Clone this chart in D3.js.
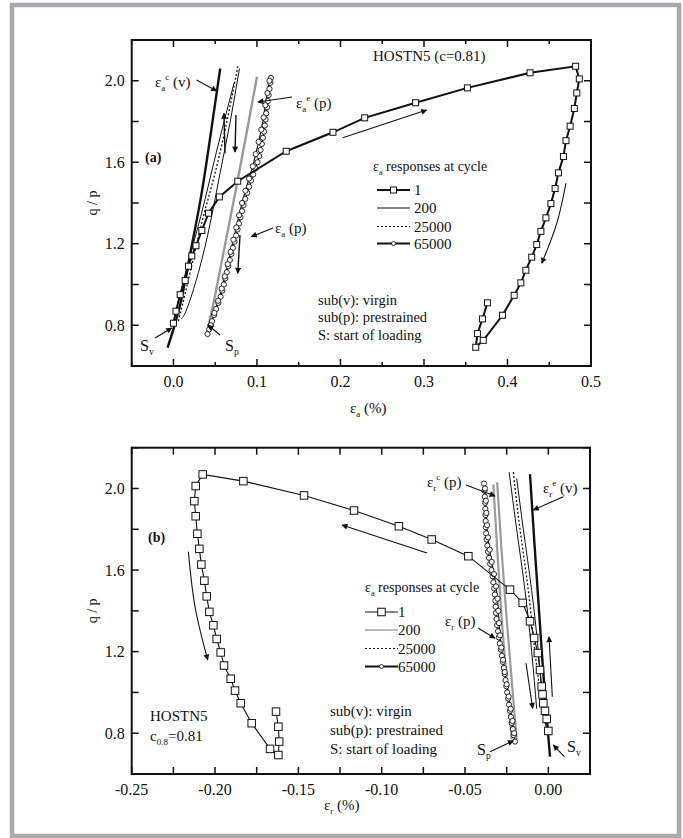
<!DOCTYPE html>
<html>
<head>
<meta charset="utf-8">
<script src="https://d3js.org/d3.v7.min.js"></script>
<style>
  body { margin: 0; background: #fff; }
  svg text { font-family: "Liberation Serif", "Times New Roman", "DejaVu Serif", serif; fill: #111; }
</style>
</head>
<body>
<svg id="fig" width="683" height="838" font-family="Liberation Serif, Times New Roman, serif"></svg>
<script>
// ---------- data: panel (a), axial strain eps_a (%) vs q/p ----------
const aCycle1X = [0.000,0.003,0.008,0.014,0.018,0.022,0.027,0.034,0.042,0.055,0.077,0.135,0.191,0.229,0.290,0.352,0.427,0.4816,0.486,0.483,0.480,0.475,0.470,0.467,0.461,0.457,0.452,0.446,0.440,0.435,0.429,0.422,0.416,0.408,0.394,0.371,0.362,0.364,0.370,0.376];
const aCycle1Y = [0.81,0.869,0.95,1.02,1.09,1.14,1.19,1.265,1.35,1.43,1.507,1.654,1.747,1.818,1.892,1.965,2.039,2.071,2.009,1.94,1.864,1.777,1.706,1.628,1.548,1.471,1.397,1.327,1.261,1.196,1.134,1.07,1.008,0.947,0.849,0.726,0.692,0.759,0.831,0.91];
// virgin envelope (thick)
const aVirginX = [-0.007,0.008,0.020,0.033,0.045,0.056];
const aVirginY = [0.69,0.90,1.15,1.43,1.75,2.06];
// cycle 200, loading and unloading
const a200UpX = [0.000,0.012,0.0327,0.052,0.0727];
const a200UpY = [0.81,1.02,1.335,1.66,1.99];
const a200DownX = [0.079,0.068,0.056,0.044,0.030,0.016,0.009];
const a200DownY = [2.06,1.80,1.55,1.30,1.06,0.88,0.83];
// cycle 25000
const a25kX = [0.006,0.020,0.035,0.050,0.065,0.077];
const a25kY = [0.82,1.06,1.32,1.55,1.82,2.07];
// prestrained elastic (grey)
const aPreEX = [0.040,0.050,0.062,0.074,0.087,0.100];
const aPreEY = [0.76,0.95,1.20,1.45,1.73,2.02];
// cycle 65000 (prestrained), loading then unloading
const a65kX = [0.0408,0.0428,0.0446,0.0462,0.0486,0.0512,0.0538,0.0565,0.0585,0.0603,0.0621,0.0639,0.0657,0.0675,0.0694,0.0712,0.0731,0.0750,0.0767,0.0785,0.0803,0.0822,0.0840,0.0860,0.0883,0.0906,0.0929,0.0955,0.0982,0.1007,0.1027,0.1043,0.1058,0.1072,0.1085,0.1094,0.1103,0.1111,0.1121,0.1130,0.1140,0.1150,0.1160,0.1167,
  0.1150,0.1125,0.1100,0.1080,0.1052,0.1020,0.0985,0.0950,0.0905,0.0862,0.0822,0.0786,0.0752,0.0718,0.0684,0.0650,0.0614,0.0577,0.0535,0.0490,0.0445];
const a65kY = [0.757,0.78,0.80,0.82,0.85,0.88,0.91,0.94,0.97,1.00,1.03,1.06,1.09,1.12,1.15,1.18,1.21,1.24,1.27,1.30,1.33,1.36,1.39,1.42,1.45,1.48,1.51,1.54,1.57,1.60,1.63,1.66,1.69,1.72,1.75,1.78,1.81,1.84,1.87,1.90,1.93,1.96,1.99,2.014,
  2.00,1.94,1.88,1.82,1.76,1.70,1.64,1.58,1.52,1.46,1.40,1.34,1.28,1.22,1.16,1.10,1.04,0.98,0.92,0.86,0.80];

// ---------- data: panel (b), radial strain eps_r (%) vs q/p ----------
const bCycle1X = [0.000,-0.001,-0.002,-0.003,-0.0035,-0.004,-0.005,-0.0063,-0.0085,-0.011,-0.0154,-0.023,-0.048,-0.070,-0.0897,-0.1166,-0.1466,-0.183,-0.2074,-0.2116,-0.2124,-0.2116,-0.2106,-0.2094,-0.2082,-0.2064,-0.205,-0.2034,-0.201,-0.199,-0.1966,-0.1946,-0.1906,-0.188,-0.1846,-0.178,-0.167,-0.162,-0.1615,-0.162,-0.1634];
const bCycle1Y = [0.811,0.870,0.91,0.947,0.99,1.029,1.11,1.193,1.267,1.349,1.439,1.504,1.668,1.75,1.815,1.892,1.966,2.036,2.069,2.012,1.938,1.864,1.778,1.704,1.627,1.548,1.471,1.395,1.329,1.262,1.196,1.132,1.067,1.009,0.947,0.849,0.723,0.693,0.759,0.832,0.906];
const bVirginX = [-0.011,-0.0085,-0.006,-0.0035,-0.001,0.001];
const bVirginY = [2.07,1.75,1.45,1.15,0.88,0.685];
const b200UpX = [-0.001,-0.003,-0.006,-0.010,-0.015,-0.019];
const b200UpY = [0.82,0.92,1.20,1.50,1.80,2.05];
const b200DownX = [-0.0235,-0.019,-0.014,-0.010,-0.007];
const b200DownY = [2.08,1.80,1.50,1.20,0.92];
const b25kX = [-0.021,-0.017,-0.012,-0.008,-0.004,-0.002];
const b25kY = [2.08,1.80,1.50,1.20,0.95,0.85];
const bPreE1X = [-0.033,-0.0305,-0.028,-0.025,-0.022];
const bPreE1Y = [2.02,1.68,1.36,1.06,0.77];
const bPreE2X = [-0.0307,-0.028,-0.025,-0.022,-0.019];
const bPreE2Y = [2.03,1.69,1.36,1.06,0.77];
const b65kX = [-0.0200,-0.0207,-0.0213,-0.0220,-0.0225,-0.0230,-0.0236,-0.0241,-0.0247,-0.0252,-0.0257,-0.0262,-0.0267,-0.0273,-0.0279,-0.0285,-0.0291,-0.0297,-0.0302,-0.0307,-0.0311,-0.0314,-0.0316,-0.0318,-0.0321,-0.0325,-0.0330,-0.0335,-0.0341,-0.0349,-0.0356,-0.0362,-0.0366,-0.0370,-0.0373,-0.0375,-0.0376,-0.0377,-0.0378,-0.0379,-0.0381,-0.0383,-0.0386,
  -0.0380,-0.0375,-0.0372,-0.0368,-0.0362,-0.0352,-0.0340,-0.0326,-0.0314,-0.0305,-0.0300,-0.0296,-0.0290,-0.0282,-0.0272,-0.0262,-0.0250,-0.0238,-0.0226,-0.0215,-0.0205];
const b65kY = [0.759,0.79,0.82,0.85,0.88,0.91,0.94,0.97,1.00,1.03,1.06,1.09,1.12,1.15,1.18,1.21,1.24,1.27,1.30,1.33,1.36,1.39,1.42,1.45,1.48,1.51,1.54,1.57,1.60,1.63,1.66,1.69,1.72,1.75,1.78,1.81,1.84,1.87,1.90,1.93,1.96,1.99,2.024,
  2.00,1.94,1.88,1.82,1.76,1.70,1.64,1.58,1.52,1.46,1.40,1.34,1.28,1.22,1.16,1.10,1.04,0.98,0.92,0.86,0.80];

const legendCycles = ["1", "200", "25000", "65000"];
const aXTicks = [0, 0.1, 0.2, 0.3, 0.4, 0.5];
const bXTicks = [-0.25, -0.20, -0.15, -0.10, -0.05, 0.00];
const yTicks = [0.8, 1.2, 1.6, 2.0];

const svg = d3.select("#fig");
const zip = (xs, ys) => xs.map((x, i) => [x, ys[i]]);

// page frame
svg.append("rect").attr("x", 12).attr("y", 5).attr("width", 667).attr("height", 831)
  .attr("fill", "none").attr("stroke", "#aaaaae").attr("stroke-width", 4.5);

svg.append("defs").append("marker")
  .attr("id", "head").attr("viewBox", "0 0 10 10").attr("refX", 9).attr("refY", 5)
  .attr("markerWidth", 10).attr("markerHeight", 6).attr("markerUnits", "userSpaceOnUse")
  .attr("orient", "auto")
  .append("path").attr("d", "M0,0L10,5L0,10Z").attr("fill", "#111");

function makePanel(o) {
  const x = d3.scaleLinear().domain(o.xDomain).range([o.left, o.right]);
  const y = d3.scaleLinear().domain([0.6, 2.2]).range([o.bottom, o.top]);
  const g = svg.append("g");

  // ticks, all pointing inward
  const major = d3.range(o.xDomain[0], o.xDomain[1] + 1e-9, o.xStep);
  major.forEach(v => {
    const isLab = o.xLabels.some(t => Math.abs(t - v) < 1e-9);
    const len = o.allLong || isLab ? 7 : 4;
    g.append("line").attr("x1", x(v)).attr("x2", x(v)).attr("y1", o.bottom).attr("y2", o.bottom - len);
    g.append("line").attr("x1", x(v)).attr("x2", x(v)).attr("y1", o.top).attr("y2", o.top + len);
  });
  d3.range(0.6, 2.2001, 0.2).forEach(v => {
    g.append("line").attr("x1", o.left).attr("x2", o.left + 7).attr("y1", y(v)).attr("y2", y(v));
    g.append("line").attr("x1", o.right).attr("x2", o.right - 7).attr("y1", y(v)).attr("y2", y(v));
  });
  g.selectAll("line").attr("stroke", "#111").attr("stroke-width", 1.5);

  g.selectAll(".xl").data(o.xLabels).enter().append("text")
    .attr("x", d => x(d)).attr("y", o.bottom + 21).attr("text-anchor", "middle")
    .style("font-size", "16px").text(o.xFmt);
  g.selectAll(".yl").data(yTicks).enter().append("text")
    .attr("x", o.left - 7).attr("y", d => y(d) + 5.5).attr("text-anchor", "end")
    .style("font-size", "16px").text(d => d.toFixed(1));

  g.append("rect").attr("x", o.left).attr("y", o.top)
    .attr("width", o.right - o.left).attr("height", o.bottom - o.top)
    .attr("fill", "none").attr("stroke", "#111").attr("stroke-width", 2);

  g.append("text").attr("transform", `translate(97,${(o.top + o.bottom) / 2}) rotate(-90)`)
    .attr("text-anchor", "middle").style("font-size", "14px").text("q / p");
  return { x, y, g };
}

function curve(p, pts, style) {
  const line = d3.line().x(d => p.x(d[0])).y(d => p.y(d[1])).curve(style.curve || d3.curveLinear);
  return p.g.append("path").attr("d", line(pts)).attr("fill", "none")
    .attr("stroke", style.color || "#111").attr("stroke-width", style.width || 1)
    .attr("stroke-dasharray", style.dash || null);
}

function squares(p, pts, size, sw) {
  p.g.selectAll(null).data(pts).enter().append("rect")
    .attr("x", d => p.x(d[0]) - size / 2).attr("y", d => p.y(d[1]) - size / 2)
    .attr("width", size).attr("height", size)
    .attr("fill", "#fff").attr("stroke", "#111").attr("stroke-width", sw);
}

function circles(p, pts) {
  p.g.selectAll(null).data(pts).enter().append("circle")
    .attr("cx", d => p.x(d[0])).attr("cy", d => p.y(d[1])).attr("r", 2.6)
    .attr("fill", "#fff").attr("stroke", "#111").attr("stroke-width", 0.9);
}

function arrow(p, pts, w) {
  const line = d3.line().x(d => p.x(d[0])).y(d => p.y(d[1])).curve(d3.curveNatural);
  p.g.append("path").attr("d", line(pts)).attr("fill", "none")
    .attr("stroke", "#111").attr("stroke-width", w || 1.1).attr("marker-end", "url(#head)");
}

// label with eps symbol: parts = [[text, shift], ...]
function label(px, py, parts, size, weight) {
  const t = svg.append("text").attr("x", px).attr("y", py).style("font-size", size + "px");
  if (weight) t.style("font-weight", weight);
  parts.forEach(pt => {
    const s = t.append("tspan").text(pt[0]);
    if (pt[1] === "sub") s.attr("dy", 4).style("font-size", (size * 0.6) + "px");
    if (pt[1] === "sup") s.attr("dy", -11).style("font-size", (size * 0.6) + "px");
    if (pt[1] === "back7") s.attr("dy", 7);
    if (pt[1] === "down") s.attr("dy", -4);
  });
  return t;
}

// ================= panel (a) =================
const pa = makePanel({ xDomain: [-0.05, 0.5], left: 131.7, right: 591, top: 40, bottom: 366,
  xStep: 0.05, xLabels: aXTicks, xFmt: d => d.toFixed(1) });

curve(pa, zip(aPreEX, aPreEY), { color: "#9a9a9a", width: 2.4, curve: d3.curveNatural });
curve(pa, zip(aVirginX, aVirginY), { width: 2.4, curve: d3.curveNatural });
curve(pa, zip(a200UpX, a200UpY), { width: 1, curve: d3.curveNatural });
curve(pa, zip(a200DownX, a200DownY), { width: 1, curve: d3.curveNatural });
curve(pa, zip(a25kX, a25kY), { width: 1.3, dash: "2,2", curve: d3.curveNatural });
curve(pa, zip(a65kX, a65kY), { width: 1.2 });
circles(pa, zip(a65kX, a65kY));
curve(pa, zip(aCycle1X, aCycle1Y), { width: 2 });
squares(pa, zip(aCycle1X, aCycle1Y), 6, 1);

arrow(pa, [[0.2027, 1.720], [0.3032, 1.856]]);
arrow(pa, [[0.470, 1.497], [0.459, 1.30], [0.441, 1.104]]);
arrow(pa, [[0.0617, 1.644], [0.0605, 1.840]], 1.4);
arrow(pa, [[0.0749, 1.832], [0.0737, 1.650]], 1.4);
arrow(pa, [[0.0797, 1.243], [0.0770, 1.055]], 1.4);
arrow(pa, [[0.0277, 2.004], [0.0518, 1.950]]);
arrow(pa, [[0.142, 1.920], [0.1012, 1.896]]);
arrow(pa, [[0.1192, 1.277], [0.0933, 1.235]]);
arrow(pa, [[-0.0221, 0.737], [-0.0021, 0.7865]]);
arrow(pa, [[0.0558, 0.752], [0.0414, 0.801]]);

label(373, 61, [["HOSTN5 (c=0.81)"]], 15);
label(145, 162, [["(a)"]], 14, "bold");
label(155, 87, [["ε"], ["a", "sub"], ["c", "sup"], [" (v)", "back7"]], 15);
label(296, 108, [["ε"], ["a", "sub"], ["e", "sup"], [" (p)", "back7"]], 15);
label(275, 233, [["ε"], ["a", "sub"], [" (p)", "down"]], 15);
label(140, 351, [["S"], ["v", "sub"]], 16);
label(225, 351, [["S"], ["p", "sub"]], 16);
label(373, 171, [["ε"], ["a", "sub"], [" responses at cycle", "down"]], 14);

function legend(x0, textX, rowsY, gray200, sqSize) {
  rowsY.forEach((ry, i) => {
    const l = svg.append("line").attr("x1", x0).attr("x2", x0 + 33).attr("y1", ry).attr("y2", ry)
      .attr("stroke", i === 1 && gray200 ? "#777" : "#111")
      .attr("stroke-width", i === 3 ? 2 : (i === 0 && !gray200 ? 1.8 : 1));
    if (i === 2) l.attr("stroke-dasharray", "2,2").attr("stroke-width", 1.2);
    svg.append("text").attr("x", textX).attr("y", ry + 5).style("font-size", "15px").text(legendCycles[i]);
  });
  svg.append("rect").attr("x", x0 + 16.5 - sqSize / 2).attr("y", rowsY[0] - sqSize / 2)
    .attr("width", sqSize).attr("height", sqSize).attr("fill", "#fff").attr("stroke", "#111");
  svg.append("circle").attr("cx", x0 + 16.5).attr("cy", rowsY[3]).attr("r", 2)
    .attr("fill", "#fff").attr("stroke", "#111").attr("stroke-width", 0.8);
}
legend(377, 414, [190, 208, 226.5, 243.5], false, 6);

label(318, 305, [["sub(v): virgin"]], 14.5);
label(318, 322, [["sub(p): prestrained"]], 14.5);
label(318, 340, [["S: start of loading"]], 14.5);
label(350, 413, [["ε"], ["a", "sub"], ["  (%)", "down"]], 15);

// ================= panel (b) =================
const pb = makePanel({ xDomain: [-0.25, 0.025], left: 131.7, right: 590, top: 447.7, bottom: 774,
  xStep: 0.025, xLabels: bXTicks, allLong: true, xFmt: d => d.toFixed(2) });

curve(pb, zip(bPreE1X, bPreE1Y), { color: "#9a9a9a", width: 2.2, curve: d3.curveNatural });
curve(pb, zip(bPreE2X, bPreE2Y), { color: "#9a9a9a", width: 2.2, curve: d3.curveNatural });
curve(pb, zip(bVirginX, bVirginY), { width: 2.4, curve: d3.curveNatural });
curve(pb, zip(b200UpX, b200UpY), { width: 1, curve: d3.curveNatural });
curve(pb, zip(b200DownX, b200DownY), { width: 1, curve: d3.curveNatural });
curve(pb, zip(b25kX, b25kY), { width: 1.3, dash: "2,2", curve: d3.curveNatural });
curve(pb, zip(b65kX, b65kY), { width: 1.1 });
circles(pb, zip(b65kX, b65kY));
curve(pb, zip(bCycle1X, bCycle1Y), { width: 1.1 });
squares(pb, zip(bCycle1X, bCycle1Y), 7.5, 1);

arrow(pb, [[-0.0728, 1.684], [-0.1238, 1.821]]);
arrow(pb, [[-0.216, 1.690], [-0.212, 1.42], [-0.2044, 1.159]]);
arrow(pb, [[0.0024, 0.979], [0.0004, 1.273]]);
arrow(pb, [[-0.0134, 1.143], [-0.0094, 0.922]]);
arrow(pb, [[-0.0494, 2.017], [-0.032, 1.963]]);
arrow(pb, [[0.009, 1.960], [-0.009, 1.895]]);
arrow(pb, [[-0.042, 1.315], [-0.032, 1.266]]);
arrow(pb, [[-0.035, 0.709], [-0.021, 0.763]]);
arrow(pb, [[0.0096, 0.685], [0.003, 0.742]]);

label(148, 542, [["(b)"]], 14, "bold");
label(150, 721, [["HOSTN5"]], 15);
label(150, 741, [["c"], ["0.8", "sub"], ["=0.81", "down"]], 15);
label(427, 487, [["ε"], ["r", "sub"], ["c", "sup"], [" (p)", "back7"]], 15);
label(543, 493, [["ε"], ["r", "sub"], ["e", "sup"], [" (v)", "back7"]], 15);
label(445, 626, [["ε"], ["r", "sub"], [" (p)", "down"]], 15);
label(477, 755, [["S"], ["p", "sub"]], 16);
label(567, 752, [["S"], ["v", "sub"]], 16);
label(365, 592, [["ε"], ["a", "sub"], [" responses at cycle", "down"]], 14);
legend(365, 398, [612, 630, 648.5, 666.5], true, 7.5);

label(330, 716, [["sub(v): virgin"]], 15);
label(330, 735, [["sub(p): prestrained"]], 15);
label(330, 754, [["S: start of loading"]], 15);
label(324, 810, [["ε"], ["r", "sub"], ["  (%)", "down"]], 15);
</script>
</body>
</html>
